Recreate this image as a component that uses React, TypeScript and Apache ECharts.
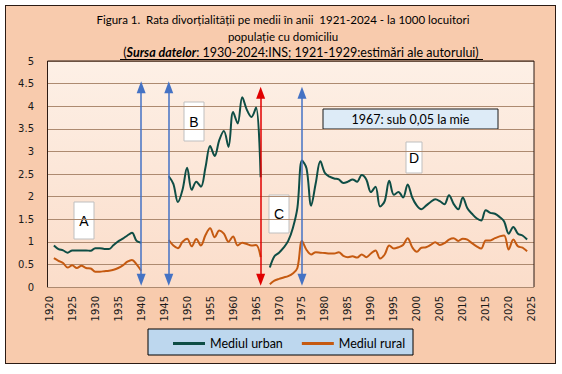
import React, { useEffect, useRef } from "react";
import * as echarts from "echarts";

// Categories: years 1920..2025
const years: string[] = [];
for (let y = 1920; y <= 2025; y++) years.push(String(y));

// Urban divorce rate (per 1000 inhabitants)
const urbanA = [0.92, 0.84, 0.81, 0.76, 0.81, 0.81, 0.81, 0.81, 0.8, 0.86, 0.86, 0.84, 0.84, 0.93, 1.01, 1.07, 1.14, 1.2, 1.02, 0.98]; // 1921-1940
const urbanB = [2.45, 2.28, 1.88, 2.15, 2.64, 2.15, 2.33, 2.22, 2.65, 3.12, 2.9, 3.25, 3.45, 3.1, 3.87, 3.62, 4.2, 3.92, 3.76, 3.97, 2.43]; // 1946-1966
const urbanC = [0.43, 0.68, 0.76, 0.87, 1.02, 1.3, 1.75, 2.8, 2.62, 1.8, 2.3, 2.78, 2.52, 2.44, 2.4, 2.38, 2.3, 2.33, 2.38, 2.33, 2.48, 2.38, 2.1, 2.22, 1.78, 1.9, 2.35, 2.04, 2.1, 1.98, 2.27, 1.98, 1.8, 1.72, 1.8, 1.88, 1.94, 1.9, 1.83, 2.03, 1.84, 1.72, 1.98, 1.74, 1.62, 1.52, 1.47, 1.7, 1.64, 1.62, 1.55, 1.45, 1.18, 1.33, 1.18, 1.14, 1.05]; // 1968-2024

// Rural divorce rate
const ruralA = [0.64, 0.58, 0.53, 0.43, 0.48, 0.42, 0.47, 0.42, 0.41, 0.34, 0.34, 0.35, 0.36, 0.38, 0.42, 0.48, 0.56, 0.6, 0.5, 0.36]; // 1921-1940
const ruralB = [1.04, 0.92, 0.86, 1.0, 1.07, 0.9, 1.06, 0.92, 1.15, 1.3, 1.1, 1.25, 1.18, 1.0, 1.12, 0.92, 0.98, 0.95, 0.92, 0.93, 0.66]; // 1946-1966
const ruralC = [0.06, 0.14, 0.18, 0.21, 0.24, 0.3, 0.42, 1.02, 0.82, 0.72, 0.77, 0.76, 0.75, 0.74, 0.74, 0.77, 0.69, 0.66, 0.68, 0.65, 0.72, 0.66, 0.74, 0.81, 0.63, 0.72, 0.92, 0.85, 0.88, 0.93, 1.08, 0.88, 0.78, 0.87, 0.88, 0.93, 0.99, 0.93, 0.97, 1.05, 1.08, 1.02, 1.07, 1.05, 0.97, 0.9, 0.85, 1.03, 1.03, 1.08, 1.12, 1.14, 0.83, 1.05, 0.9, 0.87, 0.79]; // 1968-2024

const segStarts = [1921, 1946, 1968];

// Arrow markers (year, top, bottom) and colours
const arrowYears = ["1940", "1946", "1966", "1975"];
const arrowTops = [4.42, 4.42, 4.3, 4.3];
const arrowBottoms = [0.16, 0.16, 0.16, 0.16];
const arrowColors = ["#4472C4", "#4472C4", "#E00000", "#4472C4"];

function build(segs: number[][]): (number | null)[] {
  const out: (number | null)[] = years.map(() => null);
  segs.forEach((s, i) => {
    const off = segStarts[i] - 1920;
    s.forEach((v, j) => {
      out[off + j] = v;
    });
  });
  return out;
}

export default function App() {
  const ref = useRef<HTMLDivElement>(null);
  useEffect(() => {
    document.body.style.margin = "0";
    const chart = echarts.init(ref.current!, undefined, { renderer: "svg" });
    const urban = build([urbanA, urbanB, urbanC]);
    const rural = build([ruralA, ruralB, ruralC]);
    const font = "Lato, 'Open Sans', sans-serif";
    const box = (x: number, y: number, w: number, h: number, t: string) => ({
      type: "group",
      children: [
        { type: "rect", shape: { x, y, width: w, height: h }, style: { fill: "#FFFFFF", stroke: "#BFBFBF", lineWidth: 1 } },
        { type: "text", style: { x: x + w / 2, y: y + h / 2, text: t, fontSize: 14, fontFamily: "Liberation Sans, Arial", fill: "#000", align: "center", verticalAlign: "middle" } },
      ],
    });
    chart.setOption({
      animation: false,
      grid: {
        left: 47,
        top: 61,
        width: 487,
        height: 226,
        show: true,
        borderWidth: 0,
        backgroundColor: {
          type: "linear", x: 0, y: 0, x2: 0, y2: 1,
          colorStops: [
            { offset: 0, color: "#FDF0E6" },
            { offset: 1, color: "#FBDDCA" },
          ],
        },
      },
      legend: {
        left: 168,
        top: 332,
        itemWidth: 32,
        itemHeight: 3,
        itemGap: 19,
        icon: "rect",
        textStyle: { fontSize: 12.5, fontFamily: font, color: "#000" },
        data: ["Mediul urban", "Mediul rural"],
      },
      xAxis: {
        type: "category",
        data: years,
        boundaryGap: true,
        axisLine: { show: false },
        axisTick: { show: false },
        axisLabel: {
          interval: 4,
          rotate: 90,
          fontSize: 10,
          fontFamily: "DejaVu Sans",
          color: "#1a1a1a",
          margin: 9,
        },
        splitLine: { show: false },
      },
      yAxis: {
        type: "value",
        min: 0,
        max: 5,
        interval: 0.5,
        axisLine: { show: false },
        axisTick: { show: false },
        axisLabel: {
          fontSize: 10,
          fontFamily: "DejaVu Sans",
          color: "#1a1a1a",
          margin: 13,
        },
        splitLine: { show: true, lineStyle: { color: "#AD8A70", width: 1 } },
      },
      series: [
        {
          name: "Mediul urban",
          type: "line",
          data: urban,
          smooth: 0.35,
          symbol: "none",
          connectNulls: false,
          lineStyle: { color: "#0E4D45", width: 2 },
          itemStyle: { color: "#0E4D45" },
          z: 3,
          markLine: {
            silent: true,
            symbol: ["triangle", "triangle"],
            symbolSize: [9, 12],
            label: { show: false },
            data: arrowYears.map((y, i) => [
              { coord: [y, arrowTops[i]], lineStyle: { color: arrowColors[i], width: 1.5, type: "solid" }, itemStyle: { color: arrowColors[i] } },
              { coord: [y, arrowBottoms[i]] },
            ]),
          },
        },
        {
          name: "Mediul rural",
          type: "line",
          data: rural,
          smooth: 0.35,
          symbol: "none",
          connectNulls: false,
          lineStyle: { color: "#C55A11", width: 2 },
          itemStyle: { color: "#C55A11" },
          z: 2,
        },
      ],
      graphic: [
        // plot frame: left, top, right
        { type: "polyline", z: 10, shape: { points: [[47.5, 287], [47.5, 61], [534, 61], [534, 287]] }, style: { stroke: "#2B1B14", lineWidth: 1, fill: null } },
        { type: "text", style: { x: 283, y: 19, text: "Figura 1.  Rata divorțialității pe medii în anii  1921-2024 - la 1000 locuitori", fontSize: 11.5, fontFamily: font, fill: "#000", align: "center", verticalAlign: "middle" } },
        { type: "text", style: { x: 283, y: 36, text: "populație cu domiciliu", fontSize: 11.5, fontFamily: font, fill: "#000", align: "center", verticalAlign: "middle" } },
        {
          type: "text",
          style: {
            x: 301, y: 52, align: "center", verticalAlign: "middle",
            text: "({b|Sursa datelor}: 1930-2024:INS; 1921-1929:estimări ale autorului)",
            fontSize: 12.5, fontFamily: font, fill: "#000",
            rich: { b: { fontWeight: "bold", fontStyle: "italic", fontSize: 12.5, fontFamily: font } },
          },
        },
        { type: "line", shape: { x1: 120, y1: 59.5, x2: 483, y2: 59.5 }, style: { stroke: "#000", lineWidth: 1 } },
        box(74, 202, 20, 37, "A"),
        box(184, 102, 20, 39, "B"),
        box(269, 195, 20, 38, "C"),
        box(406, 142, 16, 31, "D"),
        {
          type: "group",
          children: [
            { type: "rect", shape: { x: 323, y: 109, width: 175, height: 20 }, style: { fill: "#DDEBF7", stroke: "#1a1a1a", lineWidth: 1 } },
            { type: "text", style: { x: 410.5, y: 119, text: "1967: sub 0,05 la mie", fontSize: 12.5, fontFamily: font, fill: "#000", align: "center", verticalAlign: "middle" } },
          ],
        },
        { type: "rect", z: -1, shape: { x: 148, y: 329, width: 265, height: 26 }, style: { fill: "#BDD7EE", stroke: "#000", lineWidth: 1 } },
      ],
    });
    return () => chart.dispose();
  }, []);
  return (
    <div style={{ position: "absolute", left: 0, top: 0, width: 562, height: 374, background: "#fff" }}>
      <div style={{ position: "absolute", left: 5, top: 5, width: 549, height: 357, background: "#F8CBAD", border: "1.5px solid #2B1B14" }} />
      <div ref={ref} style={{ position: "absolute", left: 0, top: 0, width: 562, height: 374 }} />
    </div>
  );
}
